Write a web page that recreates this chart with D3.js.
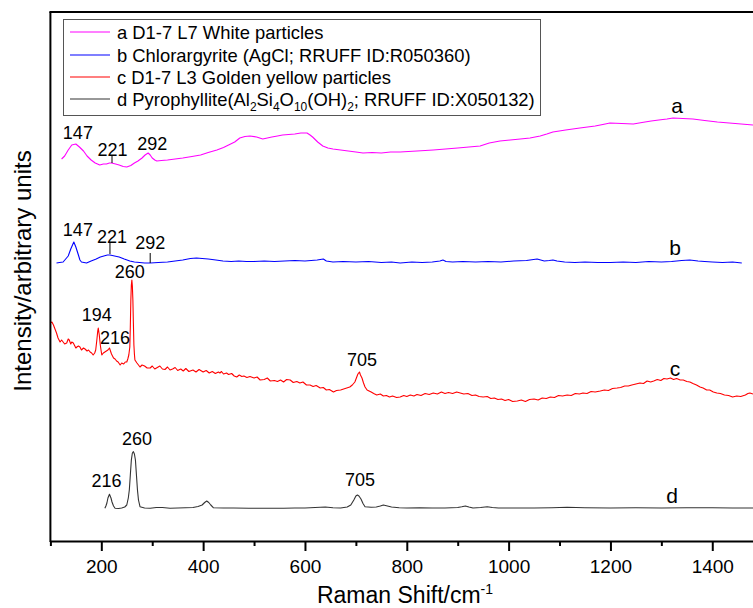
<!DOCTYPE html>
<html>
<head>
<meta charset="utf-8">
<script src="https://cdn.jsdelivr.net/npm/d3@7"></script>
<style>
body { margin: 0; background: #fff; }
svg text { font-family: Arial, "Liberation Sans", sans-serif; fill: #000; }
</style>
</head>
<body>
<div id="viz"></div>
<script>
/*
Four stacked Raman spectra (arbitrary intensity units, already offset).
Each spectrum is a list of [Raman shift cm-1, intensity] pairs.
*/

var xTicks = [200, 400, 600, 800, 1000, 1200, 1400]
var xMinorTicks = [100, 300, 500, 700, 900, 1100, 1300]

var seriesNames = ["a D1-7 L7 White particles",
                   "b Chlorargyrite (AgCl; RRUFF ID:R050360)",
                   "c D1-7 L3 Golden yellow particles",
                   "d Pyrophyllite"]
var seriesColors = ["#ff00ff", "#0000ff", "#ff0000", "#333333"]

// a: white particles
var specA = [[122,38.2],[128,38.5],[135,39.1],[142,39.6],[150,39.7],[157,39.4],[165,39.0],[172,38.5],
  [180,38.1],[188,37.8],[197,37.6],[204,37.7],[210,37.7],[216,37.8],[220,37.8],[228,37.7],[235,37.6],
  [243,37.45],[250,37.4],[258,37.55],[265,37.8],[272,38.0],[280,38.3],[286,38.6],[292,38.8],[296,38.6],
  [300,38.3],[305,38.1],[309,38.0],[318,38.05],[330,38.1],[345,38.2],[360,38.3],[378,38.45],[395,38.6],
  [410,38.85],[427,39.1],[440,39.35],[450,39.6],[462,39.9],[472,40.3],[482,40.45],[492,40.5],[505,40.4],
  [517,40.2],[526,40.3],[535,40.4],[546,40.5],[556,40.6],[568,40.65],[580,40.7],[592,40.8],[604,40.8],
  [610,40.6],[615,40.4],[625,39.9],[635,39.5],[645,39.3],[655,39.2],[670,39.1],[685,39.0],[700,38.9],
  [714,38.8],[732,38.85],[750,38.8],[768,38.9],[787,38.9],[803,38.95],[820,39.0],[836,39.05],[852,39.1],
  [876,39.2],[900,39.3],[922,39.4],[944,39.5],[962,39.8],[983,40.0],[1003,40.1],[1023,40.2],[1042,40.3],
  [1062,40.5],[1075,40.7],[1087,40.9],[1112,41.1],[1140,41.3],[1155,41.4],[1170,41.5],[1185,41.65],
  [1199,41.8],[1222,41.75],[1245,41.7],[1262,41.85],[1280,42.0],[1295,42.1],[1311,42.2],[1323,42.3],
  [1342,42.25],[1362,42.2],[1385,42.05],[1410,41.9],[1445,41.75],[1480,41.6]]

// b: chlorargyrite reference
var specB = [[112,27.8],[118,27.85],[125,27.9],[130,28.2],[135,28.5],[140,29.2],[146,29.9],[150,29.4],
  [155,28.6],[158,28.1],[161,27.9],[166,27.85],[171,27.8],[180,28.0],[190,28.2],[198,28.4],[205,28.5],
  [212,28.6],[217,28.6],[226,28.5],[235,28.4],[245,28.2],[256,28.0],[265,27.9],[275,27.85],[285,27.8],
  [296,27.8],[312,27.85],[330,27.9],[345,28.0],[360,28.1],[375,28.25],[387,28.3],[398,28.25],[410,28.2],
  [425,28.1],[439,28.0],[455,27.95],[470,28.0],[485,27.95],[500,27.95],[520,28.0],[540,27.95],[560,28.0],
  [580,28.05],[600,28.0],[624,28.1],[630,28.15],[636,28.2],[642,28.0],[655,27.9],[675,27.95],[700,27.9],
  [725,27.95],[750,27.85],[770,27.9],[787,27.8],[810,27.9],[830,27.85],[850,27.9],[865,28.0],[871,28.1],
  [877,27.95],[890,27.9],[910,27.95],[935,27.9],[960,27.95],[985,27.9],[1010,28.0],[1035,28.05],
  [1056,28.2],[1063,28.1],[1070,28.0],[1080,28.05],[1087,28.1],[1095,28.0],[1110,27.9],[1130,27.85],
  [1150,27.9],[1175,27.85],[1200,27.85],[1225,27.9],[1250,27.85],[1275,27.95],[1300,27.9],[1320,27.95],
  [1340,28.05],[1356,28.1],[1372,28.0],[1385,27.95],[1400,27.9],[1420,27.85],[1440,27.9],[1458,27.8]]

// c: golden yellow particles
var specC = [[100,21.8],[103,21.9],[106,21.6],[109,21.2],[112,20.8],[115,20.3],[119,19.9],[122,20.1],
  [125,19.9],[128,19.7],[132,19.8],[135,20.2],[137,20.1],[140,19.7],[142,19.9],[145,19.8],[147,19.6],
  [150,19.3],[152,19.4],[155,19.5],[158,19.4],[161,19.1],[165,19.3],[168,19.2],[172,19.0],[175,19.1],
  [178,18.9],[181,18.8],[184,18.6],[187,18.8],[189,19.1],[191,20.0],[193,21.0],[194,21.3],[196,20.6],
  [198,19.6],[200,18.9],[201,18.6],[204,18.8],[207,18.9],[210,19.0],[213,19.1],[216,19.3],[218,19.0],
  [220,18.7],[222,18.5],[224,18.3],[227,18.2],[230,18.0],[233,17.9],[237,17.6],[240,17.8],[244,17.7],
  [247,17.9],[250,17.9],[252,18.2],[254,18.6],[256,19.4],[257,21.5],[258,24.1],[259,25.6],[260,26.1],
  [261,25.5],[262,24.1],[263,21.8],[264,19.6],[265,18.7],[266,18.1],[270,17.8],[273,17.6],[276,17.4],
  [280,17.6],[285,17.5],[290,17.3],[296,17.3],[300,17.5],[305,17.2],[310,17.35],[315,17.5],[320,17.2],
  [325,17.15],[330,17.4],[335,17.1],[340,17.2],[345,17.35],[350,17.05],[356,17.2],[361,17.0],[366,17.25],
  [372,16.95],[380,17.1],[386,16.9],[392,17.15],[400,16.9],[406,17.05],[412,16.8],[418,16.95],[424,16.75],
  [430,16.9],[433,16.8],[436,16.95],[440,16.7],[446,16.8],[450,16.65],[456,16.75],[461,16.5],[466,16.4],
  [471,16.6],[476,16.45],[480,16.5],[486,16.35],[492,16.45],[500,16.3],[506,16.4],[512,16.1],[520,16.15],
  [526,16.3],[532,16.0],[540,16.05],[546,15.95],[552,16.1],[558,15.9],[564,16.15],[571,16.1],[577,15.85],
  [584,15.95],[590,15.8],[596,15.9],[603,15.6],[610,15.6],[616,15.45],[622,15.55],[630,15.3],[636,15.35],
  [642,15.1],[648,15.15],[656,14.9],[662,15.05],[670,15.1],[676,15.2],[682,15.3],[688,15.4],[693,15.6],
  [698,15.9],[701,16.3],[704,16.7],[707,16.9],[709,16.6],[712,16.3],[715,15.8],[718,15.4],[722,15.1],
  [726,15.0],[730,14.9],[735,14.75],[741,14.6],[748,14.7],[754,14.5],[760,14.55],[766,14.4],[772,14.5],
  [780,14.35],[787,14.4],[794,14.55],[800,14.45],[807,14.6],[814,14.5],[820,14.65],[828,14.55],[836,14.75],
  [844,14.65],[852,14.8],[860,14.7],[868,14.9],[875,14.75],[882,14.85],[890,14.75],[898,14.9],[905,14.8],
  [912,14.7],[920,14.75],[928,14.55],[935,14.6],[942,14.45],[950,14.4],[958,14.45],[965,14.25],[972,14.3],
  [979,14.15],[986,14.2],[993,14.05],[1000,14.15],[1008,13.95],[1017,14.0],[1025,14.1],[1033,13.95],
  [1041,14.15],[1050,14.2],[1058,14.1],[1066,14.3],[1074,14.25],[1082,14.4],[1090,14.35],[1098,14.55],
  [1106,14.5],[1115,14.6],[1123,14.55],[1131,14.75],[1139,14.7],[1146,14.8],[1154,14.75],[1162,14.95],
  [1170,14.9],[1180,15.0],[1188,15.1],[1196,15.05],[1204,15.25],[1213,15.3],[1220,15.35],[1228,15.5],
  [1235,15.5],[1242,15.6],[1250,15.7],[1258,15.8],[1265,15.75],[1272,16.0],[1279,15.9],[1285,16.0],
  [1292,16.15],[1299,16.05],[1305,16.25],[1311,16.2],[1318,16.3],[1324,16.15],[1330,16.25],[1337,16.1],
  [1343,16.1],[1350,15.95],[1356,15.9],[1362,15.75],[1369,15.6],[1376,15.4],[1382,15.3],[1389,15.1],
  [1395,15.1],[1402,14.9],[1409,14.8],[1416,14.75],[1424,14.6],[1432,14.55],[1440,14.4],[1448,14.5],
  [1456,14.45],[1465,14.6],[1470,14.75],[1474,14.8],[1480,14.7]]

// d: pyrophyllite reference
var specD = [[207,3.27],[209,3.5],[211,3.8],[213,4.3],[216,4.67],[219,4.3],[221,3.9],[224,3.5],[227,3.27],
  [234,3.25],[240,3.3],[246,3.4],[250,3.6],[253,4.3],[255,5.1],[257,6.6],[259,8.1],[261,8.8],[263,8.93],
  [265,8.7],[267,8.1],[269,6.6],[271,5.1],[273,4.1],[276,3.43],[285,3.3],[296,3.27],[308,3.35],[320,3.35],
  [335,3.28],[350,3.3],[365,3.32],[380,3.35],[390,3.45],[398,3.6],[403,3.85],[407,4.0],[411,3.85],
  [415,3.6],[420,3.33],[440,3.3],[460,3.3],[490,3.28],[520,3.27],[558,3.27],[580,3.3],[600,3.3],
  [620,3.35],[640,3.4],[655,3.33],[670,3.3],[683,3.4],[690,3.6],[696,4.1],[700,4.5],[703,4.6],[706,4.5],
  [710,4.2],[714,3.75],[718,3.43],[730,3.38],[740,3.4],[748,3.5],[754,3.6],[762,3.5],[770,3.4],[785,3.33],
  [800,3.3],[825,3.32],[850,3.3],[875,3.3],[900,3.35],[908,3.42],[915,3.5],[922,3.4],[930,3.3],[945,3.35],
  [958,3.43],[968,3.35],[980,3.3],[1015,3.3],[1050,3.3],[1085,3.32],[1115,3.37],[1150,3.32],[1200,3.3],
  [1250,3.32],[1300,3.3],[1350,3.32],[1400,3.33],[1440,3.3],[1480,3.3]]

var spectra = [specA, specB, specC, specD]

// Peak labels: text, Raman shift where it sits, intensity level of the label centre
var peakLabels = [
  {text: "147", at: 154, level: 40.8}, {text: "221", at: 222, level: 39.1}, {text: "292", at: 300, level: 39.7},
  {text: "147", at: 154, level: 31.1}, {text: "221", at: 221, level: 30.4}, {text: "292", at: 296, level: 29.8},
  {text: "194", at: 191, level: 22.6}, {text: "216", at: 227, level: 20.3}, {text: "260", at: 256, level: 26.9},
  {text: "705", at: 712, level: 18.1},
  {text: "216", at: 210, level: 6.0}, {text: "260", at: 270, level: 10.2}, {text: "705", at: 708, level: 6.1}]

// small vertical marker lines under some labels: shift, from, to (intensity)
var peakMarks = [[221, 37.8, 38.6], [217, 28.7, 29.8], [296, 27.8, 28.8]]

var curveLetters = ["a", "b", "c", "d"]
var curveLetterPos = [[1331, 43.6], [1327, 29.4], [1327, 17.3], [1321, 4.6]]

var width = 753, height = 608

var x = d3.scaleLinear().domain([100, 1480]).range([50.4, 753])
var y = d3.scaleLinear().domain([0, 52.9]).range([541, 12])

var svg = d3.select("#viz")
    .append("svg")
    .attr("width", width)
    .attr("height", height)

// Spectra
var line = d3.line()
    .x(d => x(d[0]))
    .y(d => y(d[1]))

svg.append("g")
    .selectAll("path")
    .data(spectra)
    .enter()
    .append("path")
    .attr("d", line)
    .attr("fill", "none")
    .attr("stroke", (d, i) => seriesColors[i])
    .attr("stroke-width", 1.1)
    .attr("stroke-linejoin", "round")

// Bottom axis, major and minor ticks
var xAxis = d3.axisBottom(x)
    .tickValues(xTicks)
    .tickFormat(d3.format("d"))
    .tickSize(10)
    .tickSizeOuter(0)
    .tickPadding(9)

var gx = svg.append("g")
    .attr("transform", "translate(0," + y(0) + ")")
    .call(xAxis)

gx.select(".domain").attr("stroke-width", 2)
gx.selectAll(".tick line").attr("stroke-width", 2)
gx.selectAll(".tick text")
    .style("font-size", "19px")

svg.append("g")
    .attr("transform", "translate(0," + y(0) + ")")
    .call(d3.axisBottom(x).tickValues(xMinorTicks).tickSize(5).tickFormat(""))
    .call(g => g.select(".domain").remove())
    .selectAll(".tick line")
    .attr("stroke-width", 2)

// Left axis and top frame line
svg.append("line")
    .attr("x1", x(100)).attr("x2", x(100))
    .attr("y1", y(52.9)).attr("y2", y(0) + 1)
    .attr("stroke", "#000").attr("stroke-width", 2)

svg.append("line")
    .attr("x1", x(100) - 1).attr("x2", width)
    .attr("y1", y(52.9)).attr("y2", y(52.9))
    .attr("stroke", "#000").attr("stroke-width", 2)

// Axis titles
var xTitle = svg.append("text")
    .attr("x", 405)
    .attr("y", 603)
    .attr("text-anchor", "middle")
    .style("font-size", "23px")
xTitle.append("tspan").text("Raman Shift/cm")
xTitle.append("tspan").attr("dy", -9).style("font-size", "14px").text("-1")

svg.append("text")
    .attr("transform", "translate(31,271) rotate(-90)")
    .attr("text-anchor", "middle")
    .style("font-size", "24px")
    .text("Intensity/arbitrary units")

// Peak markers and labels
svg.append("g")
    .selectAll("line")
    .data(peakMarks)
    .enter()
    .append("line")
    .attr("x1", d => x(d[0])).attr("x2", d => x(d[0]))
    .attr("y1", d => y(d[1])).attr("y2", d => y(d[2]))
    .attr("stroke", "#000")
    .attr("stroke-width", 1)

svg.append("g")
    .selectAll("text")
    .data(peakLabels)
    .enter()
    .append("text")
    .attr("x", d => x(d.at))
    .attr("y", d => y(d.level))
    .attr("dy", "0.36em")
    .attr("text-anchor", "middle")
    .style("font-size", "18px")
    .text(d => d.text)

svg.append("g")
    .selectAll("text")
    .data(curveLetters)
    .enter()
    .append("text")
    .attr("x", (d, i) => x(curveLetterPos[i][0]))
    .attr("y", (d, i) => y(curveLetterPos[i][1]))
    .attr("dy", "0.36em")
    .attr("text-anchor", "middle")
    .style("font-size", "21px")
    .text(d => d)

// Legend
var legend = svg.append("g")

legend.append("rect")
    .attr("x", 63.5).attr("y", 19.5)
    .attr("width", 477).attr("height", 96)
    .attr("fill", "#fff")
    .attr("stroke", "#555")
    .attr("stroke-width", 1)

var rowY = [32, 55, 77, 99]

legend.selectAll("line")
    .data(seriesNames)
    .enter()
    .append("line")
    .attr("x1", 70).attr("x2", 110)
    .attr("y1", (d, i) => rowY[i]).attr("y2", (d, i) => rowY[i])
    .attr("stroke", (d, i) => seriesColors[i])
    .attr("stroke-width", 1.1)

var legendText = legend.selectAll("text")
    .data(seriesNames)
    .enter()
    .append("text")
    .attr("x", 117)
    .attr("y", (d, i) => rowY[i])
    .attr("dy", "0.36em")
    .style("font-size", "18.4px")
    .text((d, i) => i < 3 ? d : null)

// last entry carries the chemical formula with subscripts
var dRow = d3.select(legendText.nodes()[3])
dRow.append("tspan").text(seriesNames[3] + "(Al")
dRow.append("tspan").attr("dy", 5).style("font-size", "12px").text("2")
dRow.append("tspan").attr("dy", -5).text("Si")
dRow.append("tspan").attr("dy", 5).style("font-size", "12px").text("4")
dRow.append("tspan").attr("dy", -5).text("O")
dRow.append("tspan").attr("dy", 5).style("font-size", "12px").text("10")
dRow.append("tspan").attr("dy", -5).text("(OH)")
dRow.append("tspan").attr("dy", 5).style("font-size", "12px").text("2")
dRow.append("tspan").attr("dy", -5).text("; RRUFF ID:X050132)")
</script>
</body>
</html>
